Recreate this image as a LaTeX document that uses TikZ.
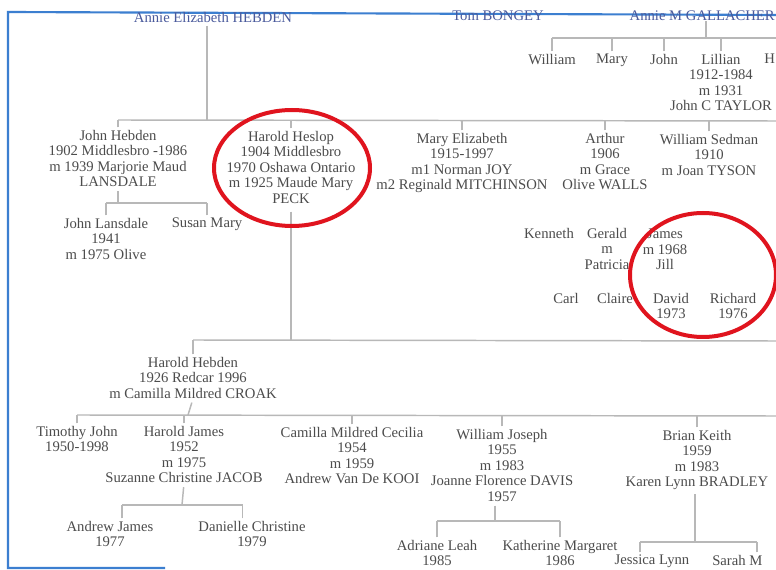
\documentclass[tikz,border=0pt]{standalone}
\usepackage{fontspec}
\setmainfont{Liberation Serif}
\definecolor{txt}{HTML}{4C4C4C}
\definecolor{lnk}{HTML}{B8B8B8}
\definecolor{framec}{HTML}{3C7FD0}
\definecolor{topc}{HTML}{4A5A9C}
\definecolor{circ}{HTML}{E0141E}
\begin{document}
\begin{tikzpicture}[x=0.75pt,y=-0.75pt,
  person/.style={align=center,anchor=north,inner sep=0pt,text=txt,font=\fontsize{11}{11.6}\selectfont},
  link/.style={draw=lnk,line width=1.1pt},
  tick/.style={draw=lnk,line width=1.1pt,shorten <=2pt},
  ring/.style={draw=circ,line width=3pt}]
\useasboundingbox (0,0) rectangle (776,570);
\clip (0,0) rectangle (776,570);
\fill[white] (0,0) rectangle (776,570);
% photo frame
\draw[framec,line width=1.6pt] (776,15) -- (8,12) -- (8,568) -- (165,568);

% top generation
\node[person,text=topc] (annie) at (213,12) {Annie Elizabeth HEBDEN};
\node[person,text=topc] (tom) at (498,11) {Tom BONGEY};
\node[person,text=topc,anchor=north east] (gall) at (775,11) {Annie M GALLACHER};

% Gallacher children
\node[person] (gwill) at (552,54) {William};
\node[person] (gmary) at (612,54) {Mary};
\node[person] (gjohn) at (664,54) {John};
\node[person] (glil) at (721,54) {Lillian\\1912-1984\\m 1931\\John C TAYLOR};
\node[person,anchor=north west] (gh) at (764,54) {H};
\coordinate (gbus) at (706,38);
\coordinate (gend) at (776,38);
\draw[link] (gbus |- gall.south) -- (gbus);
\draw[link] (gwill.north |- gbus) -- (gend);
\foreach \c in {gwill,gmary,gjohn,glil} \draw[tick] (\c.north) -- (\c.north |- gbus);

% second generation (Hebden)
\node[person] (johnh) at (118,130) {John Hebden\\1902 Middlesbro -1986\\m 1939 Marjorie Maud\\LANSDALE};
\node[person] (heslop) at (291,131) {Harold Heslop\\1904 Middlesbro\\1970 Oshawa Ontario\\m 1925 Maude Mary\\PECK};
\node[person] (marye) at (462,133) {Mary Elizabeth\\1915-1997\\m1 Norman JOY\\m2 Reginald MITCHINSON};
\node[person] (arthur) at (605,133) {Arthur\\1906\\m Grace\\Olive WALLS};
\node[person] (wsed) at (709,134) {William Sedman\\1910\\m Joan TYSON};
\coordinate (bus1) at (207,120);
\coordinate (end1) at (776,121);
\draw[link] (bus1 |- annie.south) ++(0,3) -- (bus1);
\draw[link] (johnh.north |- bus1) -- (end1);
\foreach \c in {johnh,heslop,marye,arthur,wsed} \draw[tick] (\c.north) -- (\c.north |- bus1);

% John Hebden's children
\node[person] (jl) at (106,218) {John Lansdale\\1941\\m 1975 Olive};
\node[person] (susan) at (207,218) {Susan Mary};
\coordinate (bus2) at (118,203);
\draw[link,shorten <=3pt] (johnh.south) -- (bus2);
\draw[link] (jl.north |- bus2) -- (susan.north |- bus2);
\foreach \c in {jl,susan} \draw[tick] (\c.north) -- (\c.north |- bus2);

% right cluster
\node[person] (kenneth) at (549,228) {Kenneth};
\node[person] (gerald) at (607,228) {Gerald\\m\\Patricia};
\node[person] (james) at (665,229) {James\\m 1968\\Jill};
\node[person] (carl) at (566,293) {Carl};
\node[person] (claire) at (615,293) {Claire};
\node[person] (david) at (671,293) {David\\1973};
\node[person] (richard) at (733,293) {Richard\\1976};

% Harold Heslop's line
\node[person] (hebden) at (193,357) {Harold Hebden\\1926 Redcar 1996\\m Camilla Mildred CROAK};
\coordinate (bus3) at (291,340);
\coordinate (end3) at (776,341);
\draw[link,shorten <=6pt] (heslop.south) -- (bus3);
\draw[link] (hebden.north |- bus3) -- (end3);
\draw[tick] (hebden.north) -- (hebden.north |- bus3);

% Harold Hebden's children
\node[person] (tim) at (77,426) {Timothy John\\1950-1998};
\node[person] (hj) at (184,426) {Harold James\\1952\\m 1975\\Suzanne Christine JACOB};
\node[person] (cam) at (352,427) {Camilla Mildred Cecilia\\1954\\m 1959\\Andrew Van De KOOI};
\node[person] (wj) at (502,429) {William Joseph\\1955\\m 1983\\Joanne Florence DAVIS\\1957};
\node[person] (brian) at (697,430) {Brian Keith\\1959\\m 1983\\Karen Lynn BRADLEY};
\coordinate (bus4) at (188,415);
\coordinate (end4) at (776,416);
\draw[link,shorten <=3pt] (hebden.south) -- (bus4);
\draw[link] (tim.north |- bus4) -- (end4);
\foreach \c in {tim,hj,cam,wj,brian} \draw[tick] (\c.north) -- (\c.north |- bus4);

% Harold James's children
\node[person] (aj) at (110,521) {Andrew James\\1977};
\node[person] (dc) at (252,521) {Danielle Christine\\1979};
\coordinate (bus5) at (182,505);
\draw[link,shorten <=3pt] (hj.south) -- (bus5);
\draw[link] ([xshift=9pt]aj.north |- bus5) -- ([xshift=-7pt]dc.north |- bus5);
\draw[tick] ([xshift=9pt]aj.north) -- ([xshift=9pt]aj.north |- bus5);
\draw[tick] ([xshift=-7pt]dc.north) -- ([xshift=-7pt]dc.north |- bus5);

% William Joseph's children
\node[person] (adr) at (437,540) {Adriane Leah\\1985};
\node[person] (kat) at (560,540) {Katherine Margaret\\1986};
\coordinate (bus7a) at (495,521);
\draw[link,shorten <=3pt] (wj.south -| bus7a) -- (bus7a);
\draw[link] (adr.north |- bus7a) -- (kat.north |- bus7a);
\foreach \c in {adr,kat} \draw[tick] (\c.north) -- (\c.north |- bus7a);

% Brian Keith's children
\node[person] (jes) at (652,555) {Jessica Lynn};
\node[person,anchor=north west] (sarah) at (712,555) {Sarah M};
\coordinate (bus7) at (695,542);
\draw[link,shorten <=3pt] (brian.south -| bus7) -- (bus7);
\draw[link] ([xshift=-9pt]jes.north |- bus7) -- (757,542);
\draw[tick] ([xshift=-9pt]jes.north) -- ([xshift=-9pt]jes.north |- bus7);
\draw[tick] (sarah.north -| 757,0) -- (757,542);

% red rings
\draw[ring] (292,168) ellipse [x radius=78, y radius=58];
\draw[ring] (703,275) ellipse [x radius=73, y radius=62];
\end{tikzpicture}
\end{document}
